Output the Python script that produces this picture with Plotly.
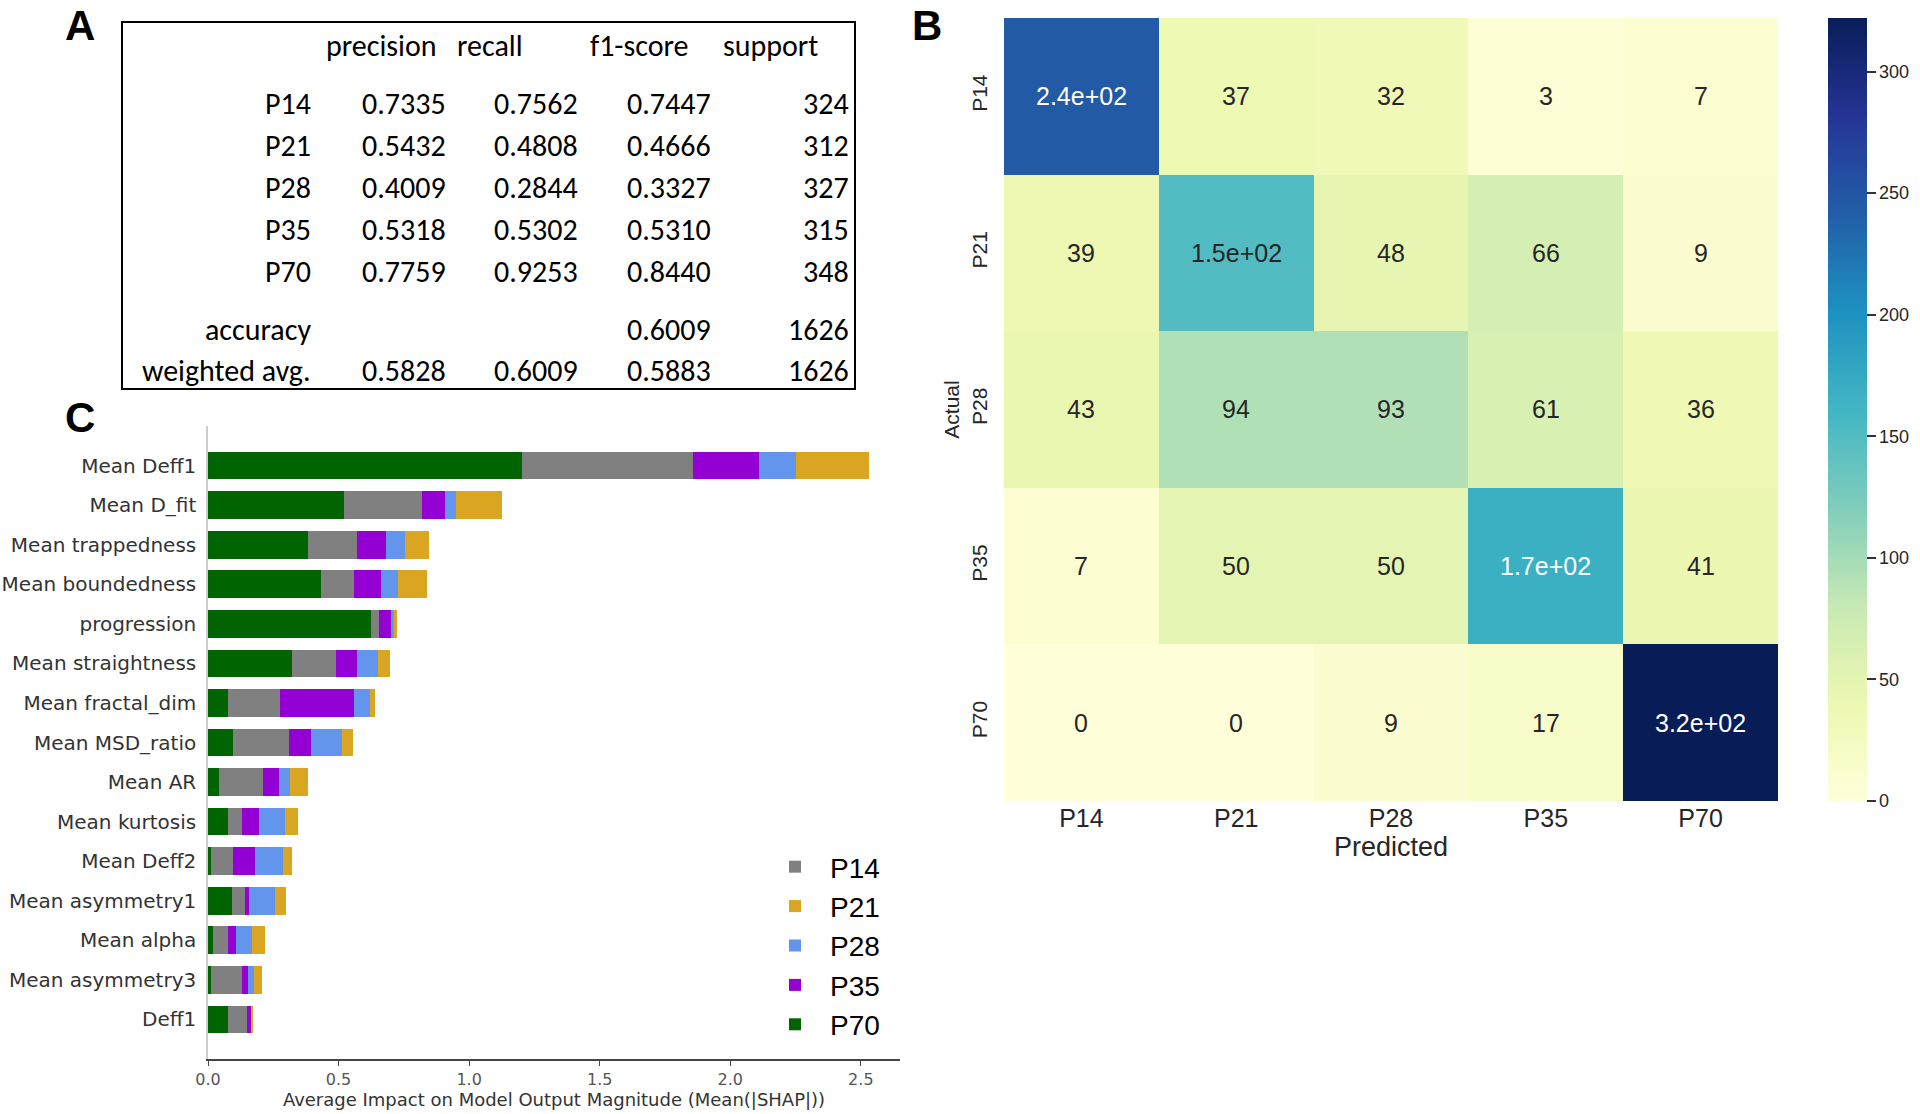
"""Classification report, confusion matrix and SHAP importance panels."""

import plotly.graph_objects as go

W, H = 1920, 1114

# ---- data -----------------------------------------------------------------
classes = ["P14", "P21", "P28", "P35", "P70"]

# classification report (panel A)
report_cols = ["precision", "recall", "f1-score", "support"]
precision = [0.7335, 0.5432, 0.4009, 0.5318, 0.7759]
recall = [0.7562, 0.4808, 0.2844, 0.5302, 0.9253]
f1_score = [0.7447, 0.4666, 0.3327, 0.5310, 0.8440]
support = [324, 312, 327, 315, 348]
accuracy = 0.6009
total_support = 1626
weighted_avg = [0.5828, 0.6009, 0.5883]

# confusion matrix (panel B), rows = actual, cols = predicted
confusion = [
    [245, 37, 32, 3, 7],
    [39, 150, 48, 66, 9],
    [43, 94, 93, 61, 36],
    [7, 50, 50, 167, 41],
    [0, 0, 9, 17, 322],
]

# mean |SHAP| per class (panel C), top to bottom
features = [
    "Mean Deff1", "Mean D_fit", "Mean trappedness", "Mean boundedness",
    "progression", "Mean straightness", "Mean fractal_dim", "Mean MSD_ratio",
    "Mean AR", "Mean kurtosis", "Mean Deff2", "Mean asymmetry1",
    "Mean alpha", "Mean asymmetry3", "Deff1",
]
shap_p70 = [1.203, 0.519, 0.383, 0.434, 0.626, 0.321, 0.078, 0.097,
            0.041, 0.078, 0.012, 0.090, 0.019, 0.012, 0.078]
shap_p14 = [0.654, 0.302, 0.187, 0.125, 0.028, 0.168, 0.196, 0.213,
            0.168, 0.053, 0.083, 0.051, 0.056, 0.118, 0.071]
shap_p35 = [0.252, 0.085, 0.111, 0.102, 0.048, 0.083, 0.286, 0.083,
            0.062, 0.065, 0.085, 0.016, 0.032, 0.025, 0.016]
shap_p28 = [0.141, 0.042, 0.074, 0.067, 0.011, 0.078, 0.060, 0.120,
            0.044, 0.097, 0.106, 0.101, 0.060, 0.021, 0.002]
shap_p21 = [0.280, 0.176, 0.093, 0.109, 0.009, 0.048, 0.021, 0.041,
            0.067, 0.051, 0.034, 0.041, 0.053, 0.030, 0.004]

# ---- styles ---------------------------------------------------------------
CLASS_COLORS = {
    "P14": "#808080",
    "P21": "#DAA520",
    "P28": "#6495ED",
    "P35": "#9400D3",
    "P70": "#006400",
}
YLGNBU = ["#ffffd9", "#edf8b1", "#c7e9b4", "#7fcdbb", "#41b6c4",
          "#1d91c0", "#225ea8", "#253494", "#081d58"]
TABLE_FONT = "Carlito, Liberation Sans Narrow, Liberation Sans, sans-serif"
NARROW = "Liberation Sans Narrow, Liberation Sans, Arial, sans-serif"
ARIAL = "Liberation Sans, Arial, sans-serif"
DEJAVU = "DejaVu Sans, sans-serif"


def px(x):
    return x / W


def py(y):
    return 1 - y / H


def hex_rgb(h):
    return [int(h[i:i + 2], 16) / 255 for i in (1, 3, 5)]


def cmap_color(t):
    """Linear interpolation in the YlGnBu colour list, t in [0, 1]."""
    pos = t * (len(YLGNBU) - 1)
    i = min(int(pos), len(YLGNBU) - 2)
    f = pos - i
    a, b = hex_rgb(YLGNBU[i]), hex_rgb(YLGNBU[i + 1])
    return [a[k] + (b[k] - a[k]) * f for k in range(3)]


def luminance(rgb):
    lin = [c / 12.92 if c <= 0.03928 else ((c + 0.055) / 1.055) ** 2.4 for c in rgb]
    return 0.2126 * lin[0] + 0.7152 * lin[1] + 0.0722 * lin[2]


fig = go.Figure()

# ---- panel C: stacked SHAP bars -------------------------------------------
stack = [("P70", shap_p70), ("P14", shap_p14), ("P35", shap_p35),
         ("P28", shap_p28), ("P21", shap_p21)]
for name, values in stack:
    fig.add_trace(
        go.Bar(
            x=values,
            y=features,
            orientation="h",
            name=name,
            width=0.7,
            marker=dict(color=CLASS_COLORS[name], line=dict(width=0)),
            legendrank=classes.index(name) + 1,
            xaxis="x",
            yaxis="y",
        )
    )

# ---- panel B: confusion matrix --------------------------------------------
zmin = min(min(r) for r in confusion)
zmax = max(max(r) for r in confusion)
colorscale = [[i / (len(YLGNBU) - 1), c] for i, c in enumerate(YLGNBU)]
fig.add_trace(
    go.Heatmap(
        z=confusion,
        x=classes,
        y=classes,
        zmin=zmin,
        zmax=zmax,
        colorscale=colorscale,
        showscale=True,
        hoverinfo="skip",
        xaxis="x2",
        yaxis="y2",
        colorbar=dict(
            x=px(1828), xanchor="left",
            y=py(18), yanchor="top",
            len=(801 - 18) / H, lenmode="fraction",
            thickness=39, outlinewidth=0, xpad=0, ypad=0,
            tick0=0, dtick=50,
            ticks="outside", ticklen=9, tickwidth=1.5, tickcolor="#333",
            tickfont=dict(family=ARIAL, size=18, color="#262626"),
        ),
    )
)

annotations = []
for i, actual in enumerate(classes):
    for j, pred in enumerate(classes):
        v = confusion[i][j]
        lum = luminance(cmap_color((v - zmin) / (zmax - zmin)))
        annotations.append(
            dict(
                x=pred, y=actual, xref="x2", yref="y2",
                text=format(v, ".2g"), showarrow=False,
                font=dict(family=NARROW, size=25,
                          color="#262626" if lum > 0.408 else "white"),
            )
        )

# ---- panel A: classification report table --------------------------------
tfont = dict(family=TABLE_FONT, size=30, color="black")
header_x = [381, 490, 639, 770]
for label, x in zip(report_cols, header_x):
    annotations.append(dict(x=px(x), y=py(46), xref="paper", yref="paper",
                            text=label, showarrow=False, xanchor="center",
                            yanchor="middle", font=tfont))

row_y = [104, 146, 187, 229, 271]
col_x = [404, 536, 669]
for k, name in enumerate(classes):
    cells = [f"{precision[k]:.4f}", f"{recall[k]:.4f}", f"{f1_score[k]:.4f}"]
    annotations.append(dict(x=px(313), y=py(row_y[k]), xref="paper", yref="paper",
                            text=name, showarrow=False, xanchor="right",
                            yanchor="middle", font=tfont))
    for txt, x in zip(cells, col_x):
        annotations.append(dict(x=px(x), y=py(row_y[k]), xref="paper", yref="paper",
                                text=txt, showarrow=False, xanchor="center",
                                yanchor="middle", font=tfont))
    annotations.append(dict(x=px(851), y=py(row_y[k]), xref="paper", yref="paper",
                            text=str(support[k]), showarrow=False, xanchor="right",
                            yanchor="middle", font=tfont))

# accuracy / weighted avg rows
summary_rows = [
    ("accuracy", 329, ["", "", f"{accuracy:.4f}"]),
    ("weighted avg.", 370, [f"{v:.4f}" for v in weighted_avg]),
]
for label, y, cells in summary_rows:
    annotations.append(dict(x=px(313), y=py(y), xref="paper", yref="paper",
                            text=label, showarrow=False, xanchor="right",
                            yanchor="middle", font=tfont))
    for txt, x in zip(cells, col_x):
        if txt:
            annotations.append(dict(x=px(x), y=py(y), xref="paper", yref="paper",
                                    text=txt, showarrow=False, xanchor="center",
                                    yanchor="middle", font=tfont))
    annotations.append(dict(x=px(851), y=py(y), xref="paper", yref="paper",
                            text=str(total_support), showarrow=False,
                            xanchor="right", yanchor="middle", font=tfont))

# panel letters
for letter, (x, y) in {"A": (80, 0), "B": (927, 0), "C": (80, 392)}.items():
    annotations.append(dict(x=px(x), y=py(y), xref="paper", yref="paper",
                            text=f"<b>{letter}</b>", showarrow=False,
                            xanchor="center", yanchor="top",
                            font=dict(family=ARIAL, size=42, color="black")))

shapes = [
    dict(type="rect", xref="paper", yref="paper",
         x0=px(122), x1=px(855), y0=py(389), y1=py(22),
         line=dict(color="black", width=2)),
]

# ---- layout ---------------------------------------------------------------
fig.update_layout(
    width=W,
    height=H,
    margin=dict(l=0, r=0, t=0, b=0, autoexpand=False),
    paper_bgcolor="white",
    plot_bgcolor="white",
    barmode="stack",
    bargap=0.3,
    showlegend=True,
    legend=dict(
        x=px(760), y=py(842), xanchor="left", yanchor="top",
        font=dict(family=ARIAL, size=28, color="black"),
        bgcolor="rgba(0,0,0,0)", itemwidth=60, traceorder="normal",
    ),
    xaxis=dict(
        domain=[px(208), px(900)], anchor="y",
        range=[0, 2.65], tick0=0, dtick=0.5, tickformat=".1f",
        showline=True, linecolor="#444", linewidth=1.5,
        ticks="outside", ticklen=5, tickcolor="#444",
        showgrid=False, zeroline=False, automargin=False,
        tickfont=dict(family=DEJAVU, size=16, color="#555"),
        title=dict(text="Average Impact on Model Output Magnitude (Mean(|SHAP|))",
                   font=dict(family=DEJAVU, size=18, color="#333"), standoff=2),
    ),
    yaxis=dict(
        domain=[py(1059), py(426)], anchor="x",
        categoryorder="array", categoryarray=features[::-1],
        range=[-1, 15],
        showline=True, linecolor="#ccc", linewidth=1.5,
        ticks="", showgrid=False, zeroline=False, automargin=False,
        ticklabelstandoff=6,
        tickfont=dict(family=DEJAVU, size=20, color="#333"),
    ),
    xaxis2=dict(
        domain=[px(1004), px(1778)], anchor="y2",
        showline=False, showgrid=False, zeroline=False, ticks="",
        automargin=False,
        tickfont=dict(family=NARROW, size=25, color="#262626"),
        title=dict(text="Predicted", font=dict(family=NARROW, size=27,
                                               color="#262626"), standoff=2),
    ),
    yaxis2=dict(
        domain=[py(801), py(18)], anchor="x2",
        autorange="reversed",
        showline=False, showgrid=False, zeroline=False, ticks="",
        automargin=False, tickangle=-90, ticklabelstandoff=12,
        tickfont=dict(family=ARIAL, size=21, color="#262626"),
        title=dict(text="Actual", font=dict(family=ARIAL, size=21,
                                            color="#262626"), standoff=2),
    ),
    annotations=annotations,
    shapes=shapes,
)

# the page body has a default 8px margin; drop it so the figure fills the window
fig.write_html(
    "out.html",
    config={"displayModeBar": False},
    post_script="document.body.style.margin = '0';",
)
